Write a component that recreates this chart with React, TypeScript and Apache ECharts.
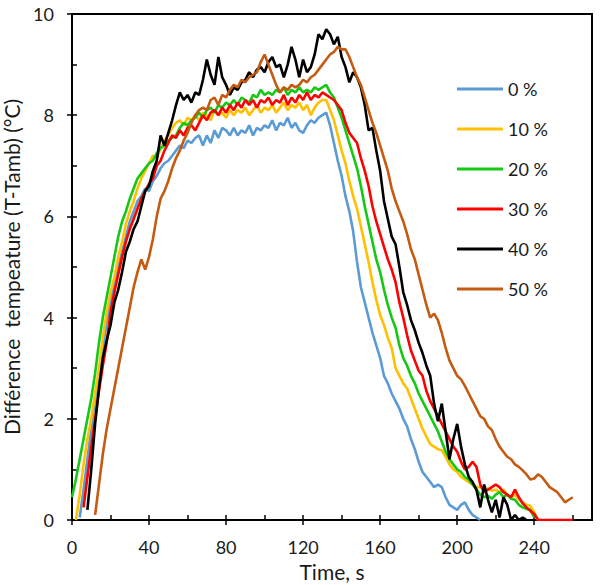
import React, { useEffect, useRef } from "react";
import * as echarts from "echarts";

// sampling step of the recorded curves (s)
const STEP = 2;

const SERIES_NAMES = ["0 %", "10 %", "20 %", "30 %", "40 %", "50 %"];
const SERIES_COLORS = ["#5B9BD5", "#FFC000", "#14C814", "#FF0000", "#000000", "#C55A11"];

const X_MAJOR = [0, 40, 80, 120, 160, 200, 240];
const X_MINOR = [20, 60, 100, 140, 180, 220, 260];
const Y_MAJOR = [0, 2, 4, 6, 8, 10];
const Y_MINOR = [1, 3, 5, 7, 9];

// start time (s) of each recorded curve
const START_0 = 4;
const START_10 = 2;
const START_20 = 0;
const START_30 = 6;
const START_40 = 8;
const START_50 = 12;

const VAL_0 = [
  0.05, 0.6, 1.2, 1.8, 2.4, 2.9, 3.4, 3.9, 4.3, 4.7,
  5.0, 5.3, 5.6, 5.9, 6.1, 6.3, 6.4, 6.55, 6.5, 6.7,
  6.8, 6.95, 7.05, 7.1, 7.2, 7.3, 7.4, 7.35, 7.5, 7.45,
  7.55, 7.6, 7.4, 7.6, 7.45, 7.7, 7.55, 7.75, 7.7, 7.6,
  7.75, 7.6, 7.7, 7.65, 7.8, 7.6, 7.75, 7.7, 7.8, 7.75,
  7.9, 7.7, 7.85, 7.8, 7.95, 7.75, 7.85, 7.7, 7.65, 7.8,
  7.9, 7.85, 7.95, 8.0, 8.05, 7.8, 7.45, 7.1, 6.8, 6.4,
  6.1, 5.7, 5.1, 4.6, 4.3, 4.0, 3.7, 3.45, 3.2, 2.85,
  2.7, 2.5, 2.35, 2.2, 2.0, 1.85, 1.6, 1.4, 1.15, 0.95,
  0.85, 0.75, 0.65, 0.7, 0.65, 0.45, 0.3, 0.25, 0.2, 0.3,
  0.35, 0.2, 0.1, 0.05, 0,
];

const VAL_10 = [
  0, 0.5, 1.1, 1.6, 2.0, 2.5, 3.0, 3.6, 4.1, 4.5,
  4.8, 5.2, 5.5, 5.85, 6.1, 6.3, 6.55, 6.75, 6.9, 7.05,
  7.2, 7.15, 7.35, 7.5, 7.6, 7.75, 7.85, 7.9, 7.8, 7.95,
  7.9, 8.0, 7.9, 8.05, 8.0, 7.9, 8.1, 8.0, 8.05, 7.95,
  8.1, 8.0, 8.1, 8.05, 8.15, 8.0, 8.1, 8.2, 8.05, 8.15,
  8.1, 8.2, 8.05, 8.15, 8.25, 8.1, 8.2, 8.15, 8.25, 8.1,
  8.2, 8.0, 8.15, 8.25, 8.3, 8.3, 8.1, 7.9, 7.6, 7.3,
  7.05, 6.7, 6.4, 6.15, 5.8, 5.45, 5.1, 4.7, 4.35, 4.05,
  3.85, 3.6, 3.4, 3.0, 2.85, 2.7, 2.6, 2.4, 2.2, 2.0,
  1.8, 1.65, 1.5, 1.45, 1.4, 1.38, 1.25, 1.1, 1.0, 0.95,
  0.85, 0.8, 0.75, 0.7, 0.65, 0.65, 0.6, 0.62, 0.58, 0.6,
  0.55, 0.6, 0.5, 0.45, 0.5, 0.4, 0.35, 0.3, 0.28, 0.15,
  0,
];

const VAL_20 = [
  0.45, 0.8, 1.2, 1.6, 2.0, 2.4, 2.9, 3.5, 4.0, 4.4,
  4.8, 5.2, 5.6, 5.9, 6.1, 6.35, 6.55, 6.75, 6.85, 6.95,
  7.05, 7.1, 7.25, 7.35, 7.4, 7.5, 7.55, 7.6, 7.75, 7.85,
  7.8, 7.9, 7.95, 8.05, 7.95, 8.1, 8.15, 8.05, 8.2, 8.15,
  8.25, 8.2, 8.3, 8.2, 8.35, 8.3, 8.25, 8.4, 8.35, 8.5,
  8.4, 8.45, 8.4, 8.5, 8.45, 8.55, 8.4, 8.5, 8.45, 8.55,
  8.45, 8.5, 8.45, 8.55, 8.5, 8.55, 8.6, 8.45, 8.35, 8.15,
  7.95, 7.7, 7.45, 7.2, 6.95, 6.6, 6.2, 5.85, 5.5, 5.15,
  4.9, 4.55, 4.25, 4.0, 3.8, 3.45, 3.2, 3.05, 2.85, 2.7,
  2.5, 2.35, 2.2, 2.05, 1.9, 1.75, 1.55, 1.35, 1.2, 1.1,
  1.0, 0.95, 0.85, 0.8, 0.7, 0.6, 0.5, 0.45, 0.48, 0.42,
  0.5, 0.55, 0.45, 0.5, 0.42, 0.4, 0.3, 0.25, 0.22, 0.2,
  0.05,
];

const VAL_30 = [
  0.25, 0.85, 1.45, 2.0, 2.55, 3.05, 3.5, 4.1, 4.5, 4.85,
  5.2, 5.5, 5.75, 5.95, 6.15, 6.35, 6.5, 6.65, 6.75, 7.0,
  7.1, 7.3, 7.45, 7.6, 7.55, 7.7, 7.6, 7.75, 7.8, 7.7,
  7.85, 8.0, 7.9, 8.05, 8.1, 8.0, 8.15, 8.05, 8.2, 8.1,
  8.25, 8.15, 8.3, 8.2, 8.3, 8.15, 8.3, 8.25, 8.35, 8.2,
  8.3, 8.25, 8.4, 8.2, 8.35, 8.25, 8.4, 8.3, 8.45, 8.3,
  8.4, 8.35, 8.45, 8.4, 8.35, 8.3, 8.2, 8.1, 7.85, 7.65,
  7.55, 7.45, 7.15, 6.9, 6.6, 6.2, 5.9, 5.65, 5.4, 5.15,
  4.95, 4.7, 4.3, 4.0, 3.65, 3.35, 3.15, 2.95, 2.85, 2.55,
  2.35, 2.2, 2.05, 1.9, 1.75, 1.6, 1.45, 1.35, 1.15, 1.0,
  1.05, 1.15, 1.05, 0.7, 0.55, 0.6, 0.65, 0.7, 0.65, 0.55,
  0.5, 0.45, 0.6, 0.45, 0.33, 0.25, 0.18, 0.12, 0, 0,
  0, 0, 0, 0, 0, 0, 0, 0,
];

const VAL_40 = [
  0.2, 1.0, 1.9, 2.6, 3.2, 3.55, 3.85, 4.3, 4.55, 4.9,
  5.3, 5.5, 5.75, 5.9, 6.2, 6.5, 6.6, 6.9, 7.1, 7.6,
  7.4, 7.65, 7.9, 8.2, 8.45, 8.3, 8.4, 8.25, 8.45, 8.4,
  8.7, 9.1, 8.8, 8.6, 9.15, 8.75, 8.6, 8.4, 8.55, 8.5,
  8.65, 8.7, 8.85, 8.75, 8.9, 8.95, 8.85, 9.05, 9.15, 8.95,
  9.0, 8.75, 9.0, 9.35, 9.1, 8.75, 9.1, 8.85, 8.95, 9.2,
  9.6, 9.5, 9.7, 9.6, 9.4, 9.55, 9.15, 8.95, 8.65, 8.85,
  8.75, 8.55, 8.2, 7.7, 7.75, 7.3, 6.9, 6.3, 5.95, 5.6,
  5.45, 5.0, 4.5, 4.25, 3.95, 3.75, 3.5, 3.3, 3.05, 2.85,
  2.3, 1.95, 2.3, 1.75, 1.2, 1.6, 1.9, 1.45, 1.1, 0.85,
  0.75, 0.6, 0.25, 0.7, 0.4, 0.15, 0.4, 0.05, 0.45, 0.3,
  0, 0.1, 0, 0.05, 0,
];

const VAL_50 = [
  0.1, 0.7, 1.3, 1.8, 2.2, 2.6, 3.0, 3.4, 3.8, 4.2,
  4.6, 4.9, 5.15, 4.95, 5.2, 5.55, 6.0, 6.35, 6.5, 6.7,
  6.95, 7.15, 7.3, 7.5, 7.65, 7.85, 8.0, 8.1, 8.15, 8.1,
  8.3, 8.35, 8.2, 8.4, 8.35, 8.5, 8.6, 8.55, 8.7, 8.65,
  8.75, 8.8, 8.85, 9.05, 9.2, 9.0, 8.8, 8.6, 8.45, 8.55,
  8.5, 8.6, 8.55, 8.6, 8.7, 8.65, 8.75, 8.8, 8.9, 9.0,
  9.1, 9.2, 9.25, 9.35, 9.3, 9.3, 9.15, 8.95, 8.75, 8.6,
  8.35, 8.1, 7.85, 7.65, 7.4, 7.15, 6.9, 6.55, 6.3, 6.1,
  5.9, 5.65, 5.35, 5.15, 4.85, 4.55, 4.25, 4.0, 4.08, 3.95,
  3.7, 3.4, 3.15, 3.0, 2.85, 2.78, 2.65, 2.5, 2.35, 2.2,
  2.05, 2.0, 1.85, 1.78, 1.6, 1.45, 1.35, 1.25, 1.2, 1.1,
  1.05, 0.98, 0.9, 0.8, 0.82, 0.9, 0.85, 0.75, 0.65, 0.6,
  0.55, 0.45, 0.35, 0.4, 0.45,
];

const STARTS = [START_0, START_10, START_20, START_30, START_40, START_50];
const VALUES = [VAL_0, VAL_10, VAL_20, VAL_30, VAL_40, VAL_50];

const FONT = "Lato, 'Open Sans', sans-serif";
const TEXT_COLOR = "#1a1a1a";

export default function App() {
  const ref = useRef<HTMLDivElement>(null);

  useEffect(() => {
    document.body.style.margin = "0";
    if (!ref.current) return;
    const chart = echarts.init(ref.current, undefined, { renderer: "svg" });

    const series = SERIES_NAMES.map((name, k) => ({
      name,
      type: "line",
      xAxisIndex: 0,
      yAxisIndex: 0,
      showSymbol: false,
      symbol: "none",
      color: SERIES_COLORS[k],
      lineStyle: { color: SERIES_COLORS[k], width: 2.6 },
      data: VALUES[k].map((v, i) => [STARTS[k] + STEP * i, v]),
    }));

    const tickLine = { color: "#000", width: 1.5 };

    chart.setOption({
      animation: false,
      textStyle: { fontFamily: FONT },
      grid: {
        left: 72,
        right: 8,
        top: 14,
        bottom: 65,
        containLabel: false,
        outerBoundsMode: "none",
        show: true,
        borderColor: "#000",
        borderWidth: 2,
        backgroundColor: "transparent",
      },
      legend: {
        orient: "vertical",
        left: 457,
        top: 78,
        padding: 0,
        icon: "rect",
        itemWidth: 46,
        itemHeight: 3,
        itemGap: 18,
        data: SERIES_NAMES,
        textStyle: { fontSize: 18, color: TEXT_COLOR, fontFamily: FONT, lineHeight: 22 },
      },
      xAxis: [
        {
          type: "value",
          min: 0,
          max: 270,
          position: "bottom",
          axisLine: { onZero: false, lineStyle: { color: "#000", width: 2 } },
          axisTick: { inside: false, length: 5, lineStyle: tickLine, customValues: X_MAJOR },
          axisLabel: {
            customValues: X_MAJOR,
            fontSize: 18,
            color: TEXT_COLOR,
            fontFamily: FONT,
            margin: 18,
          },
          splitLine: { show: false },
          name: "Time, s",
          nameLocation: "middle",
          nameGap: 32,
          nameTextStyle: { fontSize: 21, color: TEXT_COLOR, fontFamily: FONT },
        },
        {
          type: "value",
          min: 0,
          max: 270,
          position: "bottom",
          axisLine: { show: false },
          axisTick: { inside: true, length: 5, lineStyle: tickLine, customValues: X_MINOR.concat(X_MAJOR) },
          axisLabel: { show: false },
          splitLine: { show: false },
        },
      ],
      yAxis: [
        {
          type: "value",
          min: 0,
          max: 10,
          position: "left",
          axisLine: { show: true, onZero: false, lineStyle: { color: "#000", width: 2 } },
          axisTick: { show: true, inside: false, length: 5, lineStyle: tickLine, customValues: Y_MAJOR },
          axisLabel: {
            customValues: Y_MAJOR,
            fontSize: 18,
            color: TEXT_COLOR,
            fontFamily: FONT,
            margin: 18,
          },
          splitLine: { show: false },
          name: "Différence\u00a0 tempeature (T-Tamb) (°C)",
          nameLocation: "middle",
          nameGap: 39,
          nameTextStyle: { fontSize: 21, color: TEXT_COLOR, fontFamily: FONT },
        },
        {
          type: "value",
          min: 0,
          max: 10,
          position: "left",
          axisLine: { show: false },
          axisTick: { show: true, inside: true, length: 5, lineStyle: tickLine, customValues: Y_MINOR.concat(Y_MAJOR) },
          axisLabel: { show: false },
          splitLine: { show: false },
        },
      ],
      series,
    });

    return () => chart.dispose();
  }, []);

  return <div ref={ref} style={{ width: 600, height: 585 }} />;
}
